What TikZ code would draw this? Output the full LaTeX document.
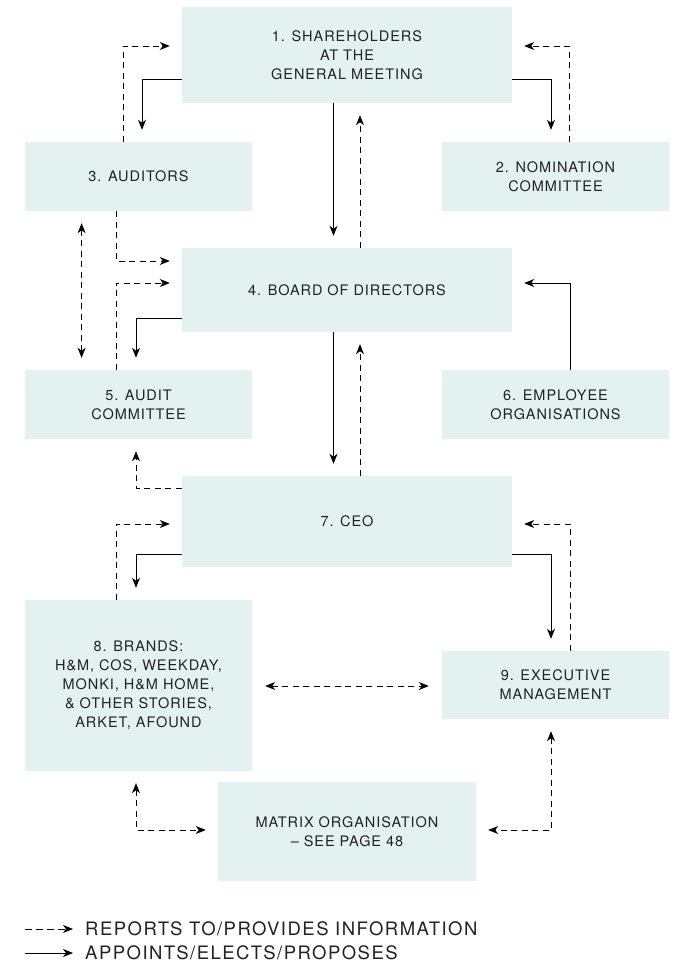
\documentclass[tikz,border=0pt]{standalone}
\usepackage{fontspec}
\setmainfont{TeX Gyre Heros}[LetterSpace=6.5]
\newfontfamily\legendfont{TeX Gyre Heros}[LetterSpace=8]
\usetikzlibrary{arrows.meta}
\definecolor{boxfill}{HTML}{E3F1F1}
\definecolor{txt}{HTML}{222222}
\begin{document}
\begin{tikzpicture}[x=1pt,y=-1pt,
  orgbox/.style={fill=boxfill, draw=none, inner sep=0pt, align=center, text=txt,
    font=\fontsize{14.5}{19}\selectfont},
  wide/.style={minimum width=330pt},
  side/.style={minimum width=227pt},
  tipstyle/.style={-{Stealth[length=10pt,width=8pt,inset=3pt]}},
  solidarrow/.style={draw=black, line width=0.9pt, tipstyle, shorten >=12pt},
  dasharrow/.style={draw=black, line width=0.9pt, dash pattern=on 6pt off 4.5pt, tipstyle, shorten >=12pt},
  dashboth/.style={draw=black, line width=0.9pt, dash pattern=on 6pt off 4.5pt,
    {Stealth[length=10pt,width=8pt,inset=3pt]}-{Stealth[length=10pt,width=8pt,inset=3pt]},
    shorten >=12pt, shorten <=12pt},
  legendtext/.style={anchor=west, inner sep=0pt, text=txt, font=\legendfont\fontsize{18.5}{22}\selectfont}
]
\useasboundingbox (0,0) rectangle (680,964);

\node[orgbox, wide, minimum height=96pt] (b1) at (347,55) {1. SHAREHOLDERS\\AT THE\\GENERAL MEETING};
\node[orgbox, side, minimum height=69pt] (aud) at (138.5,176.5) {3. AUDITORS};
\node[orgbox, side, minimum height=69pt] (nom) at (555.5,176.5) {2. NOMINATION\\COMMITTEE};
\node[orgbox, wide, minimum height=84pt] (board) at (347,290) {4. BOARD OF DIRECTORS};
\node[orgbox, side, minimum height=69pt] (ac) at (138.5,404.5) {5. AUDIT\\COMMITTEE};
\node[orgbox, side, minimum height=69pt] (emp) at (555.5,404.5) {6. EMPLOYEE\\ORGANISATIONS};
\node[orgbox, wide, minimum height=91pt] (ceo) at (347,521.5) {7. CEO};
\node[orgbox, side, minimum height=171pt] (brands) at (138.5,685.5) {8. BRANDS:\\H\&M, COS, WEEKDAY,\\MONKI, H\&M HOME,\\\& OTHER STORIES,\\ARKET, AFOUND};
\node[orgbox, side, minimum height=68pt] (exec) at (555.5,685) {9. EXECUTIVE\\MANAGEMENT};
\node[orgbox, minimum width=258pt, minimum height=99pt] (matrix) at (347,831.5) {MATRIX ORGANISATION\\– SEE PAGE 48};

% shareholders <-> auditors / nomination
\draw[solidarrow] (b1.west |- 0,79) -| (aud.north -| 142,0);
\draw[dasharrow] (aud.north -| 123,0) |- (b1.west |- 0,46);
\draw[solidarrow] (b1.east |- 0,79) -| (nom.north -| 551,0);
\draw[dasharrow] (nom.north -| 569,0) |- (b1.east |- 0,46);
% shareholders <-> board
\draw[solidarrow] (b1.south -| 333.5,0) -- (board.north -| 333.5,0);
\draw[dasharrow] (board.north -| 360,0) -- (b1.south -| 360,0);
% auditors / audit committee <-> board
\draw[dasharrow] (aud.south -| 116,0) |- (board.west |- 0,261);
\draw[dasharrow] (ac.north -| 116,0) |- (board.west |- 0,283);
\draw[solidarrow] (board.west |- 0,318) -| (ac.north -| 136,0);
\draw[dashboth] (aud.south -| 81.6,0) -- (ac.north -| 81.6,0);
% employee organisations -> board
\draw[solidarrow] (emp.north -| 570,0) |- (board.east |- 0,283);
% board <-> CEO
\draw[solidarrow] (board.south -| 333.5,0) -- (ceo.north -| 333.5,0);
\draw[dasharrow] (ceo.north -| 360,0) -- (board.south -| 360,0);
% CEO -> audit committee
\draw[dasharrow] (ceo.west |- 0,488) -| (ac.south -| 136,0);
% CEO <-> brands
\draw[dasharrow] (brands.north -| 116,0) |- (ceo.west |- 0,524);
\draw[solidarrow] (ceo.west |- 0,554) -| (brands.north -| 136,0);
% CEO <-> executive management
\draw[solidarrow] (ceo.east |- 0,554) -| (exec.north -| 551,0);
\draw[dasharrow] (exec.north -| 570,0) |- (ceo.east |- 0,524);
% brands <-> executive management
\draw[dashboth, shorten >=13pt, shorten <=13pt] (brands.east |- 0,686) -- (exec.west |- 0,686);
% matrix
\draw[dashboth] (brands.south -| 136,0) |- (matrix.west |- 0,830);
\draw[dashboth] (exec.south -| 551,0) |- (matrix.east |- 0,830);

% legend
\coordinate (l1a) at (25,929);
\coordinate (l1b) at (73,929);
\coordinate (l2a) at (25,953);
\coordinate (l2b) at (73,953);
\draw[draw=black, line width=0.9pt, dash pattern=on 7pt off 4pt, tipstyle] (l1a) -- (l1b);
\draw[draw=black, line width=0.9pt, tipstyle] (l2a) -- (l2b);
\node[legendtext] (lt1) at (85,929) {REPORTS TO/PROVIDES INFORMATION};
\node[legendtext] (lt2) at (85,953) {APPOINTS/ELECTS/PROPOSES};
\end{tikzpicture}
\end{document}
